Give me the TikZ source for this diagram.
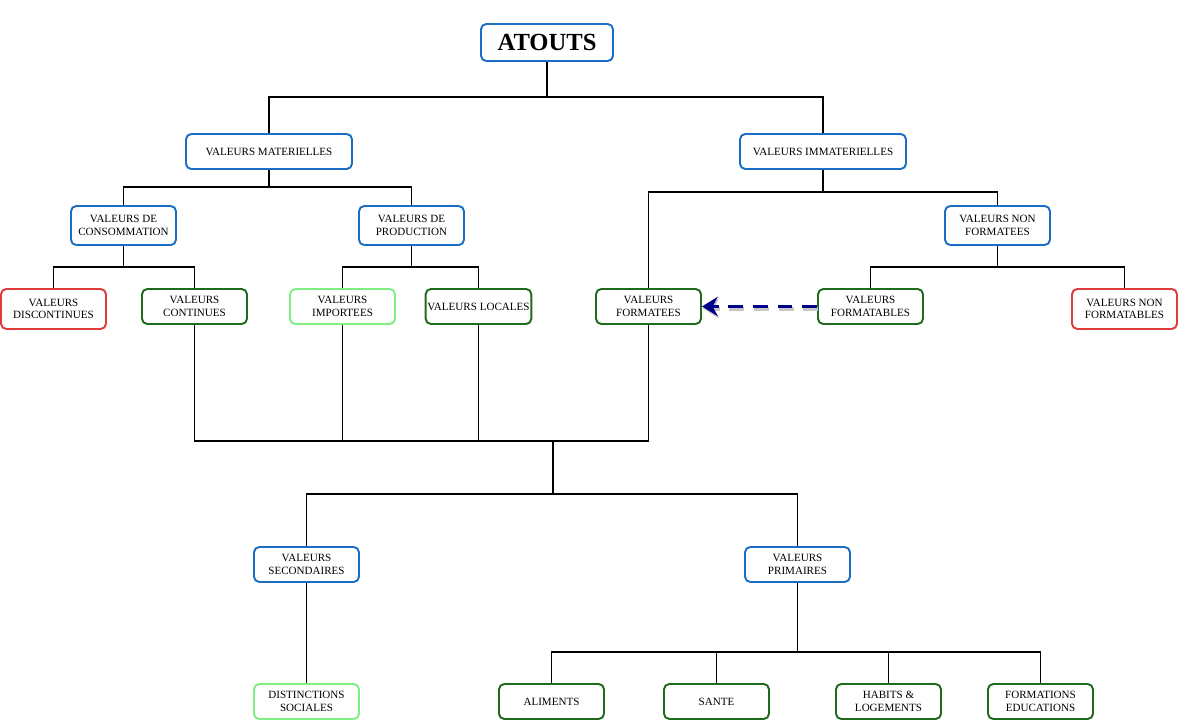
\documentclass[tikz,border=0pt]{standalone}
\usepackage{fontspec}
\setmainfont{Liberation Serif}
\usepackage{xcolor}
\usetikzlibrary{arrows.meta}

\definecolor{bleu}{HTML}{1C6EC4}
\definecolor{rouge}{HTML}{E03C3C}
\definecolor{vertfonce}{HTML}{1E6B1E}
\definecolor{vertclair}{HTML}{80EE80}
\definecolor{marine}{HTML}{00008B}

\tikzset{
  boite/.style={rectangle,rounded corners=3pt,draw,line width=1.1pt,fill=white,
    align=center,text=black,font=\fontsize{6.3}{7}\selectfont,
    minimum width=2.1cm,minimum height=0.7cm,inner xsep=1pt,inner ysep=1pt},
  lien/.style={line width=1pt}
}

\begin{document}
\begin{tikzpicture}[x=0.02cm,y=-0.02cm,>=Stealth] % arbre des atouts
    	\useasboundingbox (0,0) rectangle (1178,720);
    	
    	\node[boite,draw=bleu,font={\bfseries\fontsize{14}{16}\selectfont},minimum width=2.64cm,minimum height=0.74cm] 
    	(atouts) at (547,42.5){ATOUTS};
    	
    	\foreach \nom/\x/\txt in {mat/269/VALEURS MATERIELLES,immat/823/VALEURS IMMATERIELLES}{
    		\node[boite,draw=bleu,minimum width=3.32cm] (\nom) at (\x,151.5){\txt};
    	}
    	
    	\foreach \nom/\x/\txt in {conso/123.5/{VALEURS DE\\CONSOMMATION},prod/411.5/{VALEURS DE\\PRODUCTION},nonform/997.5/{VALEURS NON\\FORMATEES}}{
    		\node[boite,draw=bleu,minimum height=0.78cm] (\nom) at (\x,225.5){\txt};
    	}
    	
    	\foreach \nom/\x/\coul/\txt in {cont/194.5/vertfonce/{VALEURS\\CONTINUES},impor/342.5/vertclair/{VALEURS\\IMPORTEES},loc/478.5/vertfonce/{VALEURS LOCALES},formee/648.5/vertfonce/{VALEURS\\FORMATEES},formable/870.5/vertfonce/{VALEURS\\FORMATABLES}}{
    		\node[boite,draw=\coul] (\nom) at (\x,306.5){\txt};
    	}
    	
    	\foreach \nom/\x/\txt in {discont/53.5/{VALEURS\\DISCONTINUES},nonformable/1124.5/{VALEURS NON\\FORMATABLES}}{
    		\node[boite,draw=rouge,minimum height=0.8cm] (\nom) at (\x,309){\txt};
    	}
    	
    	\node[boite,draw=bleu] (second) at (306.5,564.5){VALEURS\\SECONDAIRES};
    	\node[boite,draw=bleu] (prim) at (797.5,564.5){VALEURS\\PRIMAIRES};
    	
    	\node[boite,draw=vertclair] (distinct) at (306.5,701.5){DISTINCTIONS\\SOCIALES};
    	\foreach \nom/\x/\txt in {alim/551.5/ALIMENTS,sante/716.5/SANTE,habit/888.5/{HABITS \&\\LOGEMENTS},form/1040.5/{FORMATIONS\\EDUCATIONS}}{
    		\node[boite,draw=vertfonce] (\nom) at (\x,701.5){\txt};
    	}
    	
    	% branches du haut
    	\draw[lien] (atouts.south) -- (atouts.south |- 0,97) coordinate (j0);
    	\draw[lien] (j0) -| (mat.north);
    	\draw[lien] (j0) -| (immat.north);
    	
    	\draw[lien] (mat.south) -- (mat.south |- 0,187) coordinate (j1);
    	\draw[lien] (j1) -| (conso.north);
    	\draw[lien] (j1) -| (prod.north);
    	
    	\draw[lien] (immat.south) -- (immat.south |- 0,192) coordinate (j2);
    	\draw[lien] (j2) -| (formee.north);
    	\draw[lien] (j2) -| (nonform.north);
    	
    	\draw[lien] (conso.south) -- (conso.south |- 0,267) coordinate (j3);
    	\draw[lien] (j3) -| (discont.north);
    	\draw[lien] (j3) -| (cont.north);
    	
    	\draw[lien] (prod.south) -- (prod.south |- 0,267) coordinate (j4);
    	\draw[lien] (j4) -| (impor.north);
    	\draw[lien] (j4) -| (loc.north);
    	
    	\draw[lien] (nonform.south) -- (nonform.south |- 0,267) coordinate (j5);
    	\draw[lien] (j5) -| (formable.north);
    	\draw[lien] (j5) -| (nonformable.north);
    	
    	% regroupement
    	\coordinate (m0) at (553,441);
    	\draw[lien] (cont.south) |- (m0);
    	\draw[lien] (formee.south) |- (m0);
    	\foreach \i in {impor,loc}{
    		\draw[lien] (\i.south) -- (\i.south |- m0);}
    	\draw[lien] (m0) -- ++(0,53) coordinate (m1);
    	\draw[lien] (m1) -| (second.north);
    	\draw[lien] (m1) -| (prim.north);
    	
    	\draw[lien] (second.south) -- (distinct.north);
    	\draw[lien] (prim.south) -- (prim.south |- 0,652) coordinate (j6);
    	\foreach \i in {alim,sante,habit,form}{
    		\draw[lien] (j6) -| (\i.north);}
    	
    	% fleche pointillee
    	\draw[-{Stealth[length=9pt,width=11pt]},gray!45,line width=2.2pt,dash pattern=on 8.5pt off 5.5pt,
    	transform canvas={xshift=0.6pt,yshift=-1.2pt}] (formable.west) -- (formee.east);
    	\draw[-{Stealth[length=9pt,width=11pt]},marine,line width=2.2pt,dash pattern=on 8.5pt off 5.5pt] 
    	(formable.west) -- (formee.east);
    \end{tikzpicture}
\end{document}
